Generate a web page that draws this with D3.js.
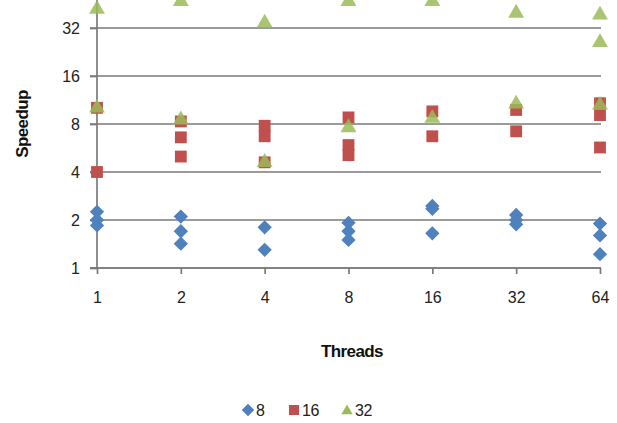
<!DOCTYPE html>
<html><head><meta charset="utf-8">
<script src="https://cdn.jsdelivr.net/npm/d3@7"></script>
<style>body{margin:0;background:#fff}svg{display:block}</style>
</head><body>
<script>
const threads = [1, 2, 4, 8, 16, 32, 64];
const yTicks = [1, 2, 4, 8, 16, 32];
const seriesNames = ["8", "16", "32"];
// values per thread count (several runs each)
const s8  = [[2.25, 2.0, 1.85], [2.1, 1.7, 1.42], [1.8, 1.3], [1.92, 1.7, 1.5], [2.45, 2.35, 1.65], [2.15, 2.0, 1.88], [1.9, 1.6, 1.22]];
const s16 = [[4.0, 10.1], [8.3, 6.6, 5.0], [7.8, 6.7, 4.6], [8.8, 5.9, 5.1], [9.6, 6.7], [9.8, 7.2], [10.8, 9.1, 5.7]];
const s32 = [[42, 10.1], [47, 8.5], [34.4, 4.6], [47, 7.6], [47, 8.7], [39.7, 10.7], [38.6, 26, 10.5]];

const W = 617, H = 423;
const FONT = "Liberation Sans, Arial, sans-serif";
const svg = d3.select("body").append("svg").attr("width", W).attr("height", H);
const x = d3.scalePoint().domain(threads).range([97, 600]);
const y = d3.scaleLog().base(2).domain([1, Math.pow(2, 268/48)]).range([268, 0]);

// gridlines
svg.append("g").selectAll("line").data(yTicks).join("line")
  .attr("x1", 90).attr("x2", 601).attr("y1", d => y(d)).attr("y2", d => y(d))
  .attr("stroke", "#7a7a7a").attr("stroke-width", 1.7);

// y axis
const yAxis = svg.append("g").attr("transform", "translate(97,0)")
  .call(d3.axisLeft(y).tickValues(yTicks).tickFormat(d3.format("d")).tickSize(7).tickPadding(10));
yAxis.select(".domain").attr("stroke", "#7a7a7a").attr("stroke-width", 1.7).attr("d", "M0,0V268");
yAxis.selectAll(".tick line").attr("stroke", "#7a7a7a").attr("stroke-width", 1.7);
yAxis.selectAll("text").attr("font-family", FONT).attr("font-size", 16).attr("fill", "#222");

// x axis
const xAxis = svg.append("g").attr("transform", "translate(0,268)")
  .call(d3.axisBottom(x).tickSize(6).tickPadding(18));
xAxis.select(".domain").attr("stroke", "#7a7a7a").attr("stroke-width", 1.7).attr("d", "M90,0H601");
xAxis.selectAll(".tick line").attr("stroke", "#7a7a7a").attr("stroke-width", 1.7);
xAxis.selectAll("text").attr("font-family", FONT).attr("font-size", 16).attr("fill", "#222");

// axis titles
svg.append("text").attr("x", 352).attr("y", 357).attr("text-anchor", "middle")
  .attr("font-family", FONT).attr("font-size", 17).attr("font-weight", "bold")
  .attr("letter-spacing", -0.6).attr("fill", "#111").text("Threads");
svg.append("text").attr("transform", "translate(28,124) rotate(-90)").attr("text-anchor", "middle")
  .attr("font-family", FONT).attr("font-size", 17).attr("font-weight", "bold")
  .attr("letter-spacing", -0.6).attr("fill", "#111").text("Speedup");

const colors = ["#4F81BD", "#C0504D", "#9BBB59"];
const shapes = [d3.symbolDiamond2, d3.symbolSquare, d3.symbolTriangle];
const sizes = [130, 140, 110];
const all = [s8, s16, s32];

all.forEach((s, si) => {
  const pts = [];
  s.forEach((vals, ti) => vals.forEach(v => pts.push({t: threads[ti], v})));
  svg.append("g").selectAll("path").data(pts).join("path")
    .attr("transform", d => `translate(${x(d.t)},${y(d.v)})`)
    .attr("d", d3.symbol().type(shapes[si]).size(sizes[si]))
    .attr("fill", colors[si]).attr("fill-opacity", si === 2 ? 0.85 : 1);
});

// legend
const leg = svg.append("g");
const legX = [248, 294, 347];
seriesNames.forEach((n, i) => {
  leg.append("path").attr("transform", `translate(${legX[i]},${i === 2 ? 411 : 410})`)
    .attr("d", d3.symbol().type(shapes[i]).size([100, 100, 55][i])).attr("fill", colors[i]);
  leg.append("text").attr("x", legX[i] + 8).attr("y", 416)
    .attr("font-family", FONT).attr("font-size", 16).attr("fill", "#222")
    .attr("letter-spacing", -0.5).text(n);
});
</script>
</body></html>
